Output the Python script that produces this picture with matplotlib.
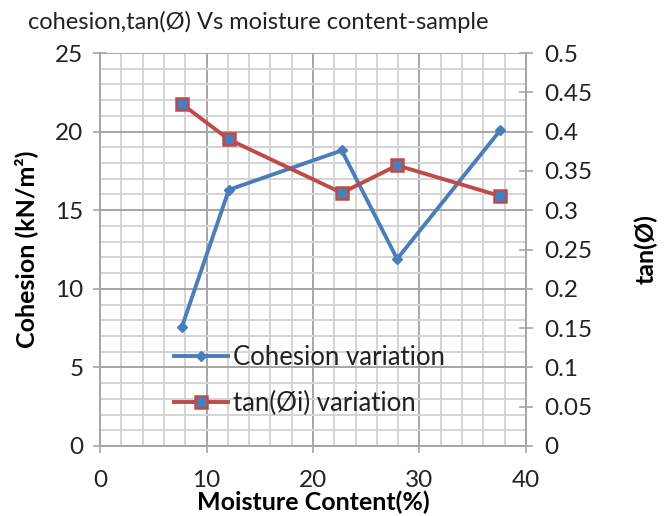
import matplotlib
matplotlib.use('Agg')
import matplotlib.pyplot as plt
import numpy as np

plt.rcParams['font.family'] = ['Lato', 'DejaVu Sans']

# data
moisture = [7.7, 12.1, 22.7, 27.9, 37.6]
cohesion = [7.6, 16.3, 18.8, 11.9, 20.1]
tan_phi = [0.435, 0.39, 0.322, 0.357, 0.318]

left_ticks = [0, 5, 10, 15, 20, 25]
right_ticks = [0, 0.05, 0.1, 0.15, 0.2, 0.25, 0.3, 0.35, 0.4, 0.45, 0.5]
x_ticks = [0, 10, 20, 30, 40]

blue = '#4A7EBB'
red = '#BE4B48'
major_grid = '#a6a6a6'
minor_grid = '#d4d4d4'

fig = plt.figure(figsize=(6.69, 5.16), dpi=100)
ax = fig.add_axes([100 / 669, 1 - 446 / 516, 426 / 669, 393 / 516])
ax2 = ax.twinx()

ax.set_xlim(0, 40)
ax.set_ylim(0, 25)
ax2.set_ylim(0, 0.5)

# grid
ax.set_xticks(x_ticks)
ax.set_xticks(np.arange(0, 41, 2), minor=True)
ax.set_yticks(left_ticks)
ax.set_yticks(np.arange(0, 26, 1), minor=True)
ax.grid(which='minor', color=minor_grid, lw=1.4, zorder=0)
ax.grid(which='major', color=major_grid, lw=1.4, zorder=0)
ax.set_axisbelow(True)

ax.tick_params(which='minor', length=0)
ax.tick_params(axis='y', which='major', direction='inout', length=10, width=1.2,
               color=major_grid, labelsize=17.5, labelcolor='#222222', pad=7)
ax.tick_params(axis='x', which='major', direction='inout', length=10, width=1.2,
               color=major_grid, labelsize=17.5, labelcolor='#222222', pad=12)
ax2.set_yticks(right_ticks)
ax2.set_yticklabels([f'{v:g}' for v in right_ticks])
ax2.tick_params(direction='inout', length=10, width=1.2, color=major_grid,
                labelsize=17.5, labelcolor='#222222', pad=8)

for a in (ax, ax2):
    a.spines['top'].set_visible(False)
    for side in ('left', 'right', 'bottom'):
        a.spines[side].set_color(major_grid)
        a.spines[side].set_linewidth(1.4)

l1, = ax.plot(moisture, cohesion, color=blue, lw=2.8, marker='D', ms=5,
              mfc=blue, mec=blue, label='Cohesion variation', zorder=3)
l2, = ax2.plot(moisture, tan_phi, color=red, lw=2.8, marker='s', ms=8,
               mfc=blue, mec=red, mew=1.8, label='tan(Øi) variation', zorder=3)

leg = ax.legend(handles=[l1, l2], loc='upper left',
                bbox_to_anchor=(64 / 426, 111 / 393), frameon=False,
                fontsize=18.5, handlelength=2.1, handletextpad=0.2,
                labelspacing=0.8, borderaxespad=0)
for t in leg.get_texts():
    t.set_color('#222222')

ax.set_ylabel('Cohesion (kN/m²)', fontsize=18, fontweight='bold', labelpad=12)
ax2.set_ylabel('tan(Ø)', fontsize=18, fontweight='bold', labelpad=30)
ax.set_xlabel('Moisture Content(%)', fontsize=18, fontweight='bold', labelpad=0)

fig.text(258 / 669, 1 - 22 / 516, 'cohesion,tan(Ø) Vs moisture content-sample',
         ha='center', va='center', fontsize=17, color='#222222')

fig.savefig('out.png', dpi=100)
